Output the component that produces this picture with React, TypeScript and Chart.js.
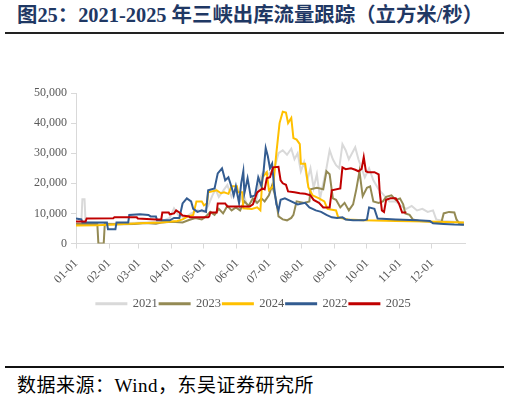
import React, { useEffect, useRef } from "react";
import { Chart, registerables } from "chart.js";

Chart.register(...registerables);

const monthTicks = [0, 31, 59, 90, 120, 151, 181, 212, 243, 273, 304, 334];
const monthLabels = ["01-01", "02-01", "03-01", "04-01", "05-01", "06-01", "07-01", "08-01", "09-01", "10-01", "11-01", "12-01"];
const yTicks = [0, 10000, 20000, 30000, 40000, 50000];

// [day of year, flow m3/s]
const flow2021: [number, number][] = [
  [0, 7000], [5, 7000], [6, 14700], [8, 14700], [9, 7000], [20, 6800], [35, 6600], [50, 6800], [65, 7000], [80, 7300],
  [88, 8500], [92, 11700], [96, 9500], [102, 8500], [108, 10000], [114, 11000], [120, 10500], [124, 12500], [128, 16000],
  [131, 18000], [134, 15500], [138, 17500], [142, 19500], [146, 15500], [150, 18000], [153, 13500], [157, 16500],
  [161, 12000], [165, 14500], [169, 13500], [173, 22000], [176, 24000], [180, 23000], [184, 24000], [187, 26000],
  [190, 30000], [194, 31000], [198, 29500], [202, 31500], [205, 28000], [208, 30000], [211, 24000], [214, 27000],
  [217, 21000], [220, 25000], [223, 18500], [226, 23000], [229, 15000], [232, 20000], [235, 25000], [238, 31000],
  [241, 28000], [244, 26000], [247, 25000], [250, 33000], [253, 31000], [256, 28000], [259, 30000], [262, 32000],
  [265, 28000], [268, 25000], [271, 22000], [275, 25000], [279, 21000], [284, 18000], [289, 16000], [294, 14000],
  [300, 14000], [305, 12500], [310, 11500], [315, 12500], [320, 11000], [325, 11500], [330, 10500], [335, 11000],
  [338, 8000], [345, 7500], [355, 7200], [364, 7000],
];

const flow2023: [number, number][] = [
  [0, 6500], [20, 6500], [21, 0], [26, 0], [27, 6500], [40, 6400], [55, 6500], [65, 6800], [75, 6600], [80, 7000],
  [90, 7200], [100, 7000], [106, 7800], [112, 8500], [118, 8000], [122, 9000], [126, 10500], [130, 9500], [134, 11500],
  [138, 10000], [142, 12500], [146, 11000], [150, 12000], [154, 11000], [158, 14000], [162, 12500], [166, 15000],
  [170, 13500], [174, 15000], [177, 14000], [181, 16000], [184, 19300], [186, 17000], [188, 14000], [190, 9000],
  [194, 8000], [198, 7700], [202, 8500], [204, 9500], [207, 14000], [214, 13500], [219, 14000], [220, 18000],
  [226, 18500], [232, 18000], [235, 24000], [238, 23000], [241, 15000], [244, 14500], [248, 12000], [252, 13500],
  [256, 11000], [260, 13000], [263, 18000], [266, 24000], [269, 15700], [273, 18500], [276, 19000], [279, 14000],
  [284, 13500], [288, 14000], [291, 15500], [296, 16000], [300, 14500], [304, 15000], [307, 13000], [309, 10000],
  [313, 9500], [316, 8000], [322, 7500], [330, 7300], [338, 7000], [343, 7200], [345, 10000], [350, 10500],
  [355, 10300], [357, 8000], [360, 6500], [364, 6300],
];

const flow2024: [number, number][] = [
  [0, 6000], [20, 6100], [40, 6400], [60, 6700], [80, 7000], [95, 7500], [100, 8000], [105, 9000], [110, 9500],
  [113, 14000], [118, 14000], [120, 12700], [123, 13300], [124, 17000], [132, 17700], [136, 16700], [139, 17000],
  [143, 16500], [146, 19000], [151, 19000], [152, 17000], [156, 17000], [157, 11700], [165, 11500], [170, 12000],
  [173, 11000], [175, 22000], [179, 23700], [181, 17700], [185, 19000], [188, 30000], [191, 40000], [194, 43800],
  [197, 43500], [199, 40000], [202, 41700], [204, 35000], [207, 34500], [210, 33000], [211, 26500], [215, 26500],
  [218, 18700], [222, 16000], [228, 15000], [233, 14000], [236, 11500], [244, 11000], [246, 8700], [255, 8000],
  [270, 7700], [300, 7500], [330, 7300], [364, 7000],
];

const flow2022: [number, number][] = [
  [0, 8300], [5, 8000], [6, 7000], [29, 7000], [30, 4700], [37, 4700], [38, 7000], [49, 7000], [50, 9500], [60, 9700],
  [68, 9500], [70, 9000], [75, 9000], [76, 7700], [88, 7700], [92, 8500], [97, 8500], [100, 13300], [104, 15000],
  [108, 14000], [110, 11500], [114, 10500], [118, 11000], [122, 10500], [124, 17700], [130, 18300], [133, 23300],
  [137, 25000], [140, 21000], [143, 22000], [146, 18700], [148, 16000], [150, 19000], [153, 13500], [155, 20000],
  [157, 24000], [158, 16700], [161, 21700], [164, 15500], [168, 16000], [171, 22000], [174, 19000], [176, 24000],
  [178, 31700], [180, 29000], [182, 25000], [184, 26500], [186, 18500], [188, 13000], [190, 11000], [192, 14500],
  [196, 15000], [202, 14000], [208, 13000], [215, 13500], [219, 12000], [225, 11000], [230, 10500], [235, 9500],
  [240, 8700], [245, 8500], [250, 8700], [253, 8000], [260, 7700], [270, 7700], [273, 8000], [275, 12000],
  [280, 11500], [283, 8300], [300, 8000], [320, 7700], [332, 7500], [335, 6700], [345, 6500], [355, 6300], [364, 6200],
];

const flow2025: [number, number][] = [
  [0, 7300], [9, 7300], [10, 8300], [35, 8400], [36, 8700], [57, 8700], [58, 8300], [75, 8000], [80, 8000],
  [81, 10300], [87, 10300], [88, 9700], [92, 10000], [94, 11000], [97, 10300], [100, 9300], [106, 9000], [107, 8700],
  [124, 8700], [125, 9000], [126, 10300], [132, 10300], [133, 13300], [140, 13300], [142, 12300], [163, 12300],
  [166, 13000], [170, 17000], [175, 18300], [177, 18000], [179, 21700], [182, 22000], [185, 25300], [190, 25500],
  [192, 21000], [194, 20000], [197, 19500], [199, 17300], [205, 17000], [210, 16700], [215, 16500], [220, 16000],
  [223, 14500], [228, 13500], [232, 12000], [238, 12000], [240, 17700], [248, 18300], [250, 25300], [253, 24700],
  [258, 25000], [262, 24500], [265, 24000], [268, 24800], [270, 28700], [272, 24000], [274, 23700], [280, 23700],
  [284, 23000], [285, 17000], [287, 11000], [289, 10500], [291, 14500], [295, 15000], [300, 15000], [303, 13300],
  [306, 10300], [310, 10300],
];

const seriesNames = ["2021", "2023", "2024", "2022", "2025"];
const seriesColors = ["#D9D9D9", "#948A54", "#FFC000", "#335C91", "#C00000"];
const seriesData = [flow2021, flow2023, flow2024, flow2022, flow2025];

const SERIF = '"Liberation Serif", "Times New Roman", serif';

const legendShift = {
  id: "legendShift",
  afterLayout(chart: any) {
    if (chart.legend) {
      chart.legend.left += 21;
      chart.legend.right += 21;
    }
  },
};

export default function App() {
  const ref = useRef<HTMLCanvasElement | null>(null);

  useEffect(() => {
    if (!ref.current) return;
    const chart = new Chart(ref.current, {
      type: "line",
      data: {
        datasets: seriesNames.map((name, i) => ({
          label: name,
          data: seriesData[i].map(([x, y]) => ({ x, y })),
          borderColor: seriesColors[i],
          backgroundColor: seriesColors[i],
          borderWidth: 2,
          pointRadius: 0,
          tension: 0,
          order: seriesNames.length - i,
        })),
      },
      options: {
        animation: false,
        responsive: false,
        devicePixelRatio: 1,
        layout: { padding: { top: 53, right: 45, bottom: 10, left: 0 } },
        font: { family: SERIF },
        scales: {
          x: {
            type: "linear",
            min: 0,
            max: 365,
            afterBuildTicks: (scale: any) => {
              scale.ticks = monthTicks.map((v) => ({ value: v }));
            },
            afterFit: (scale: any) => {
              scale.height += 1;
            },
            ticks: {
              autoSkip: false,
              minRotation: 45,
              maxRotation: 45,
              padding: 8,
              color: "#595959",
              font: { family: SERIF, size: 12 },
              callback: (_v: any, idx: number) => monthLabels[idx],
            },
            grid: { drawOnChartArea: false, drawTicks: true, tickLength: 5, color: "#D9D9D9" },
            border: { display: true, color: "#D9D9D9" },
          },
          y: {
            min: 0,
            max: 50000,
            afterBuildTicks: (scale: any) => {
              scale.ticks = yTicks.map((v) => ({ value: v }));
            },
            afterFit: (scale: any) => {
              scale.width = 76;
            },
            ticks: {
              padding: 4,
              color: "#595959",
              font: { family: SERIF, size: 12 },
              callback: (v: any) => Number(v).toLocaleString("en-US"),
            },
            grid: { drawOnChartArea: false, drawTicks: true, tickLength: 5, color: "#D9D9D9" },
            border: { display: true, color: "#D9D9D9" },
          },
        },
        plugins: {
          tooltip: { enabled: false },
          legend: {
            position: "bottom",
            labels: {
              boxWidth: 30,
              boxHeight: 1,
              padding: 2,
              color: "#595959",
              font: { family: SERIF, size: 12.5 },
              sort: (a: any, b: any) => a.datasetIndex - b.datasetIndex,
            },
          },
        },
      },
      plugins: [legendShift],
    } as any);
    return () => chart.destroy();
  }, []);

  return (
    <div style={{ position: "absolute", left: 0, top: 0, width: 510, height: 401, background: "#fff", overflow: "hidden" }}>
      <div
        style={{
          position: "absolute",
          left: 17,
          top: 3,
          fontSize: 20.4,
          fontWeight: "bold",
          color: "#1F3864",
          fontFamily: '"Liberation Serif", "Noto Sans CJK SC", serif',
          whiteSpace: "nowrap",
          lineHeight: "24px",
        }}
      >
        图25：2021-2025 年三峡出库流量跟踪（立方米/秒）
      </div>
      <div style={{ position: "absolute", left: 5, top: 32, width: 499, height: 2, background: "#222" }} />
      <canvas ref={ref} width={510} height={290} style={{ position: "absolute", left: 0, top: 40, width: 510, height: 290 }} />
      <div style={{ position: "absolute", left: 5, top: 366, width: 499, height: 2, background: "#111" }} />
      <div
        style={{
          position: "absolute",
          left: 17,
          top: 374,
          fontSize: 19,
          letterSpacing: 0.5,
          color: "#000",
          fontFamily: '"Liberation Serif", "Noto Sans CJK SC", serif',
          whiteSpace: "nowrap",
          lineHeight: "24px",
        }}
      >
        数据来源：Wind，东吴证券研究所
      </div>
    </div>
  );
}
